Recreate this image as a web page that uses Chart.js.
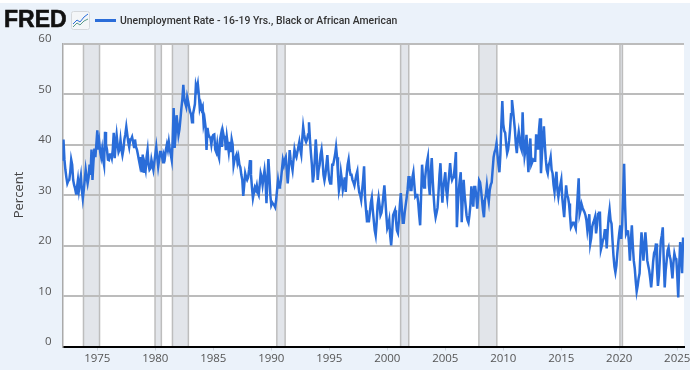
<!DOCTYPE html>
<html>
<head>
<meta charset="utf-8">
<title>Unemployment Rate - 16-19 Yrs., Black or African American</title>
<script src="https://cdn.jsdelivr.net/npm/chart.js@4"></script>
<style>
  html, body { margin: 0; padding: 0; background: #ebf2fa; }
  #wrap { position: relative; width: 690px; height: 370px; overflow: hidden; }
  canvas { display: block; }
  #topstrip { position: absolute; left: 0; top: 0; width: 690px; height: 3px; background: #fff; }
  #logo { position: absolute; left: 4px; top: 6px; font: bold 23px/27px "Liberation Sans", sans-serif; color: #111; -webkit-text-stroke: 0.6px #111; }
  #icon { position: absolute; left: 71px; top: 11px; }
  #swatch { position: absolute; left: 95px; top: 19px; width: 21px; height: 3px; background: #2a6dd9; }
  #legend { position: absolute; left: 120px; top: 11.5px; font: 500 11.4px/16px Roboto, sans-serif; color: #333; white-space: nowrap; transform-origin: 0 50%; transform: scaleX(0.914); }
</style>
</head>
<body>
<div id="wrap">
  <canvas id="chartRate" width="690" height="370"></canvas>
  <div id="topstrip"></div>
  <div id="logo">FRED</div>
  <svg id="icon" width="19" height="19" viewBox="0 0 19 19">
    <rect x="0.5" y="0.5" width="18" height="18" rx="2" fill="#f4f6f8" stroke="#d5d8dc"/>
    <polyline points="2,13 6,9 9,11 13,6 17,3" fill="none" stroke="#2a6dd9" stroke-width="1"/>
    <polyline points="2,16 6,12 9,14 13,10 17,8" fill="none" stroke="#5a9a8a" stroke-width="1"/>
  </svg>
  <div id="swatch"></div>
  <div id="legend">Unemployment Rate - 16-19 Yrs., Black or African American</div>
</div>
<script>
const startYear = 1972;
const rate = [
  36.8, 41, 37, 35, 33.5, 32.3, 32.8, 33, 34.5, 37, 36, 33,
  32, 31.3, 30.3, 31.5, 33, 31, 32.5, 33.8, 31, 29.3, 31, 33,
  35, 33.5, 32.3, 33.5, 36, 34, 39, 33, 36.5, 39.2, 37.5, 40,
  42.8, 39, 40.5, 38.5, 37.5, 39, 37, 35.9, 42.5, 40, 39, 37,
  36.9, 38, 38, 37.3, 39, 42.3, 37.3, 40, 41.9, 40, 38.5, 39,
  40.9, 39, 37.9, 39, 41, 42, 43.5, 42, 40.5, 39.5, 41, 41,
  41.5, 40.5, 39.5, 41, 39.5, 39, 38, 37, 36, 37.5, 34.5, 38,
  34.4, 36, 35, 37.5, 38.9, 36, 35, 35.3, 37, 36, 35, 36.5,
  38, 39.5, 37.5, 35.6, 37, 38.5, 38.5, 37.5, 36.5, 38, 37.5, 39,
  40, 39, 40.5, 39, 38, 36.9, 41, 47.2, 39.3, 42, 45.8, 44,
  41.9, 43, 45, 47.2, 49, 51.8, 49, 48.2, 47.5, 49.4, 48.5, 47.4,
  46.5, 46, 44.4, 46, 47, 48, 51.8, 51, 52, 50, 47.2, 48,
  47, 47.5, 44, 45, 43.5, 38.9, 43.3, 42, 41.5, 41.3, 40, 41.5,
  41.9, 42, 39, 38.5, 40, 38, 37.3, 41, 42, 39.5, 42.5, 41.5,
  41.5, 38.9, 41.5, 40, 38.5, 40.5, 38.5, 41, 40, 35.9, 37, 37.5,
  38, 36.5, 37.5, 36, 35.5, 34, 33, 29.8, 32, 34.3, 33.5, 33,
  33.5, 35, 36.9, 34, 31.5, 29.4, 30.5, 31.5, 31, 31.9, 30.5, 30,
  32, 34.3, 33.5, 32, 33.5, 34.9, 33, 28.4, 33, 37.1, 34, 30,
  28, 28.5, 28.2, 28, 27.6, 29, 31, 32.9, 31.5, 31.7, 33, 35,
  36.9, 36, 37, 37.5, 35, 32.3, 35, 38.9, 37, 36, 34.9, 37,
  39, 38, 37.5, 38.5, 39.5, 40.5, 39, 38, 41, 43.5, 42, 41,
  40.5, 41, 42, 44.4, 41, 38.3, 36, 32.5, 34, 37, 41, 38,
  33, 35, 36, 38, 39, 37, 34, 32.9, 34, 36, 37.9, 35,
  33, 32.3, 32.3, 36, 36, 37, 38, 39.5, 37.5, 34, 30.9, 32,
  34.5, 33, 31, 32, 33.5, 30.6, 34, 36, 37, 35, 34, 34,
  33, 32.5, 31.9, 33, 34, 34.7, 32, 30.5, 30, 29, 31, 33,
  35.7, 29.5, 27, 24.8, 24.8, 24.8, 26.5, 28.5, 29.5, 27, 25, 23,
  22, 24.5, 28, 29.5, 28, 26, 26.5, 28, 30, 31.9, 29, 26,
  23.4, 24, 25, 22, 20, 22.5, 26, 26.5, 27, 25, 23, 22.5,
  25, 28, 30.4, 27.5, 24.5, 24.5, 26.5, 28, 29.4, 31, 33.5, 33.5,
  31, 31, 33.5, 34.5, 32, 29.7, 30, 30, 28.5, 26, 24, 30,
  36, 33, 31.5, 33, 35, 36.5, 37.5, 32, 30, 34.5, 37.3, 33,
  29.7, 27, 25.6, 26.5, 27.5, 30.5, 34, 36.3, 32, 28.5, 31.5, 33,
  34.5, 31, 29.5, 32, 34, 36.3, 34, 33, 33.5, 34, 36, 38.5,
  23.6, 28, 31, 33, 34.5, 24.6, 29, 33, 30, 28, 26, 25,
  24.5, 26, 28, 31.7, 29.5, 27.7, 31.6, 31.6, 30, 27.3, 29.5, 32.9,
  32.5, 31, 29, 27, 25.6, 29, 30, 31.9, 30, 28.7, 31, 32,
  32.5, 35, 37.5, 38.5, 39, 40.2, 38, 36, 34.5, 38, 44, 48.6,
  44, 42.7, 42.3, 40, 38.3, 39, 40.7, 43, 46, 48.8, 47, 45,
  43, 40, 38.3, 41, 42.5, 41, 39.5, 38.9, 46.4, 41, 37.7, 39,
  41.9, 38, 34.5, 39, 41.2, 36, 36.5, 37, 36.8, 36.8, 42, 40.5,
  39, 43, 45.2, 34.3, 38, 41, 43.6, 40, 37, 35, 34.3, 36,
  36.5, 37.5, 35, 34.3, 32, 30.6, 33, 34.6, 31, 29.6, 31, 32,
  33, 29.5, 27.5, 25.6, 29, 31.9, 30, 29.5, 28.3, 26, 23.6, 24,
  24.5, 24.5, 24, 23.4, 26.5, 30, 33.3, 26.2, 27, 28.2, 27.5, 27,
  26.6, 26, 25, 23, 24.5, 26.2, 20.4, 21.5, 23.7, 24.5, 25, 25.7,
  22.4, 24, 26.2, 26.5, 26.5, 19.2, 20, 21, 21.5, 23, 23, 19.4,
  23, 25.5, 27.1, 25, 24.3, 21, 18, 15.8, 14.7, 16, 18.5, 20.7,
  22.5, 24, 21.3, 24, 30, 36.2, 28, 22.3, 22.8, 23, 20.5, 17,
  21, 24, 20, 17, 15.5, 13, 10.9, 12, 13.5, 14.5, 19, 22.6,
  20, 17, 20, 22.6, 20, 17, 16, 15, 13.5, 11.7, 14, 16.7,
  18.5, 19, 20.4, 15.5, 12, 14, 17.5, 20.9, 22, 23.6, 17, 11.7,
  15, 17, 19, 19.6, 18, 17.3, 15.5, 13.5, 16.5, 18.4, 17.5, 17.3,
  14, 9.7, 16, 20.7, 18, 14.5, 21.6,
];
const tickYears = [1975, 1980, 1985, 1990, 1995, 2000, 2005, 2010, 2015, 2020, 2025];
const recessionStart = [1973.83, 1980.0, 1981.5, 1990.5, 2001.17, 2007.92, 2020.08];
const recessionEnd = [1975.17, 1980.5, 1982.83, 1991.17, 2001.83, 2009.42, 2020.25];

const tickFont = { family: "'Open Sans', sans-serif", size: 11.5 };

// white plot area and the grey recession bands go under the grid
const plotBack = {
  id: "plotBack",
  beforeDraw(chart) {
    const { ctx, chartArea: a, scales } = chart;
    ctx.save();
    ctx.fillStyle = "#ffffff";
    ctx.fillRect(a.left, a.top, a.right - a.left, a.bottom - a.top);
    recessionStart.forEach((s, i) => {
      const x1 = scales.x.getPixelForValue(s);
      const x2 = scales.x.getPixelForValue(recessionEnd[i]);
      ctx.fillStyle = "#e2e5ea";
      ctx.fillRect(x1, a.top, x2 - x1, a.bottom - a.top);
      ctx.fillStyle = "#bdbdbd";
      ctx.fillRect(x1 - 1, a.top, 1.5, a.bottom - a.top);
      ctx.fillRect(x2 - 0.5, a.top, 1.5, a.bottom - a.top);
    });
    ctx.restore();
  },
};

new Chart(document.querySelector("#chartRate"), {
  type: "line",
  data: {
    datasets: [
      {
        label: "Unemployment Rate - 16-19 Yrs., Black or African American",
        data: rate.map((v, i) => ({ x: startYear + i / 12, y: v })),
        borderColor: "#2a6dd9",
        borderWidth: 2.5,
        pointRadius: 0,
        tension: 0,
        fill: false,
      },
    ],
  },
  plugins: [plotBack],
  options: {
    responsive: false,
    animation: false,
    layout: { padding: { top: 43.5, right: 6, left: 0, bottom: 0 } },
    scales: {
      x: {
        type: "linear",
        min: 1972,
        max: 2025.58,
        afterBuildTicks: (scale) => {
          scale.ticks = tickYears.map((y) => ({ value: y }));
        },
        afterFit: (scale) => {
          scale.height = 23.5;
          scale.paddingLeft = 0;
          scale.paddingRight = 0;
        },
        grid: { drawOnChartArea: false, color: "#ccd3dc", tickLength: 4 },
        border: { color: "#000000", width: 2 },
        ticks: {
          font: tickFont,
          color: "#555555",
          maxRotation: 0,
          autoSkip: false,
          padding: 1,
          callback: (v) => String(v),
        },
      },
      y: {
        min: 0,
        max: 60,
        afterFit: (scale) => {
          scale.width = 62.5;
        },
        grid: { color: "#bcbcbc", lineWidth: 2, drawTicks: false },
        border: { color: "#aaaaaa", width: 1.5 },
        ticks: {
          stepSize: 10,
          font: tickFont,
          color: "#555555",
          padding: 11,
          labelOffset: -4.5,
        },
        title: {
          display: true,
          text: "Percent",
          color: "#444444",
          font: { family: "'Open Sans', sans-serif", size: 13 },
          padding: { top: 11, bottom: 0 },
        },
      },
    },
    plugins: {
      legend: { display: false },
      tooltip: { enabled: false },
    },
  },
});
</script>
</body>
</html>
